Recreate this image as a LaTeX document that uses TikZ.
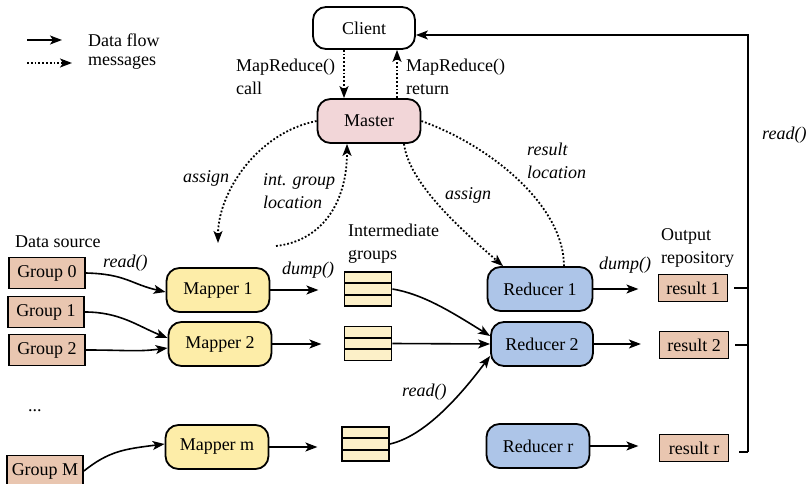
\documentclass[tikz,border=0pt]{standalone}
\usepackage{fontspec}
\setmainfont{Liberation Serif}
\usetikzlibrary{arrows.meta,positioning}

\definecolor{masterpink}{HTML}{F2D6D8}
\definecolor{mapperyellow}{HTML}{FDEDA8}
\definecolor{reducerblue}{HTML}{ADC5E8}
\definecolor{tanbox}{HTML}{E9C6B0}
\definecolor{cellyellow}{HTML}{FCF0C8}

\begin{document}
\begin{tikzpicture}[x=1pt, y=-1pt,
            every node/.style={font=\rmfamily\fontsize{18}{23}\selectfont},
            box/.style={draw, line width=1.8pt, rounded corners=13pt, minimum width=103pt, minimum height=44pt, inner sep=0pt},
            master/.style={box, fill=masterpink},
            mapper/.style={box, fill=mapperyellow},
            reducer/.style={box, fill=reducerblue},
            src/.style={draw, line width=1.8pt, fill=tanbox, minimum width=76pt, minimum height=31pt, inner sep=0pt},
            result/.style={src, minimum width=69pt, minimum height=27pt},
            cell/.style={draw, line width=1.8pt, fill=cellyellow, minimum width=47pt, minimum height=11.3pt, inner sep=0pt},
            flow/.style={-{Stealth[length=12pt,width=9pt,inset=3pt]}, line width=1.6pt},
            dots/.style={dotted, line width=1.8pt},
            msg/.style={dots, -{Stealth[length=12pt,width=9pt,inset=3pt]}},
            lbl/.style={align=left, inner sep=0pt, anchor=west},
            note/.style={lbl, font=\rmfamily\fontsize{18}{23}\selectfont\itshape}]
            \useasboundingbox (0,0) rectangle (811,484);

            % legend
            \node[lbl] (lgflow) at (88,40) {Data flow};
            \node[lbl] (lgmsg)  at (88,63) {messages};
            \draw[flow] ([xshift=-61pt]lgflow.west) -- ([xshift=-26pt]lgflow.west);
            \draw[msg]  ([xshift=-61pt]lgmsg.west) -- ([xshift=-16pt]lgmsg.west);

            % client and master
            \node[box, fill=white, minimum width=102pt, minimum height=42pt] (client) at (364,28) {Client};
            \node[master] (master) at (369,121) {Master};
            \node[lbl] (callbl) at (236,76.5) {MapReduce()\\call};
            \node[lbl] (retlbl) at (406,76.5) {MapReduce()\\return};
            \draw[msg] ([xshift=-20pt]client.south) -- ([xshift=-25pt]master.north);
            \draw[msg] ([xshift=28pt]master.north) -- ([xshift=33pt]client.south);

            % data source
            \node[lbl] (srclbl) at (15,242) {Data source};
            \node[src] (g0) at (47,273) {Group 0};
            \node[src] (g1) at (46,312) {Group 1};
            \node[src] (g2) at (47,350) {Group 2};
            \node[lbl] (vdots) at (28,411) {...};
            \node[src] (gM) at (45,471) {Group M};

            % mappers
            \node[mapper] (m1) at (218,290) {Mapper 1};
            \node[mapper] (m2) at (220,344) {Mapper 2};
            \node[mapper] (mm) at (217,447) {Mapper m};
            \node[note] (rd1) at (103,263) {read()};
            \node[note] (dp1) at (282,270) {dump()};

            \draw[flow] (g0.east) .. controls +(40,1) and +(-35,-8) .. ([yshift=-2pt]m1.west);
            \draw[flow] (g1.east) .. controls +(35,0) and +(-30,-12) .. ([yshift=6pt]m2.west);
            \draw[flow] (g2.east) .. controls +(40,0) and +(-30,4) .. ([yshift=-4pt]m2.west);
            \draw[flow] (gM.east) .. controls +(25,-20) and +(-40,5) .. ([yshift=3pt]mm.west);
            \draw[flow] (m1.east) -- +(48,0);
            \draw[flow] (m2.east) -- +(49,0);
            \draw[flow] (mm.east) -- +(48,0);

            % intermediate groups
            \node[lbl] (intlbl) at (348,243.5) {Intermediate\\groups};
            \foreach \n/\x/\y in {1/368/289, 2/368/343.5, 3/365.5/444} {
                \node[cell] (ig\n a) at (\x,\y-11.3) {};
                \node[cell] (ig\n b) at (\x,\y) {};
                \node[cell] (ig\n c) at (\x,\y+11.3) {};
            }

            % reducers
            \node[reducer, minimum width=105pt] (r1) at (540,289) {Reducer 1};
            \node[reducer, minimum width=102pt] (r2) at (542,344) {Reducer 2};
            \node[reducer] (rr) at (538,446) {Reducer r};
            \node[note] (rd2) at (402,392) {read()};
            \node[note] (dp2) at (599,265) {dump()};

            \draw[flow] (ig1b.east) .. controls +(30,5) and +(-40,-25) .. ([yshift=8pt]r2.west);
            \draw[flow] (ig2b.east) -- (r2.west);
            \draw[flow] (ig3b.east) .. controls +(35,-8) and +(-30,40) .. ([yshift=-12pt]r2.west);
            \draw[flow] (r1.east) -- +(45,0);
            \draw[flow] (r2.east) -- +(47,0);
            \draw[flow] (rr.east) -- +(48,0);

            % output repository
            \node[lbl] (outlbl) at (661,247.5) {Output\\repository};
            \node[result] (res1) at (693,288) {result 1};
            \node[result] (res2) at (694,345) {result 2};
            \node[result] (resr) at (694,448) {result r};

            \coordinate (top) at (748,35);
            \draw[line width=1.6pt] ([xshift=6pt]res1.east) -- (res1.east -| top);
            \draw[line width=1.6pt] ([xshift=6pt]res2.east) -- (res2.east -| top);
            \draw[line width=1.6pt] ([shift={(10pt,-4pt)}]resr.east) -- ([yshift=-4pt]resr.east -| top);
            \draw[flow] ([yshift=-4pt]resr.east -| top) -- (top) -- (client.east |- top);
            \node[note] (rd3) at (762,135) {read()};

            % messages
            \coordinate (asg) at (218,243);
            \coordinate (igl) at (276,246);
            \draw[msg] (master.west) .. controls +(-60,12) and +(0,-50) .. (asg);
            \draw[msg] (igl) .. controls +(45,-5) and +(0,60) .. ([xshift=-22pt]master.south);
            \draw[msg] ([xshift=35pt]master.south) .. controls +(5,40) and +(-40,-35) .. ([xshift=-37pt]r1.north);
            \draw[dots] (master.east) .. controls +(70,25) and +(0,-60) .. ([xshift=24pt]r1.north);
            \node[note] (asg1) at (183,178) {assign};
            \node[note] (iglbl) at (263,191.5) {int. group\\location};
            \node[note] (asg2) at (445,195) {assign};
            \node[note] (rloc) at (527,161) {result\\location};
        \end{tikzpicture}
\end{document}
